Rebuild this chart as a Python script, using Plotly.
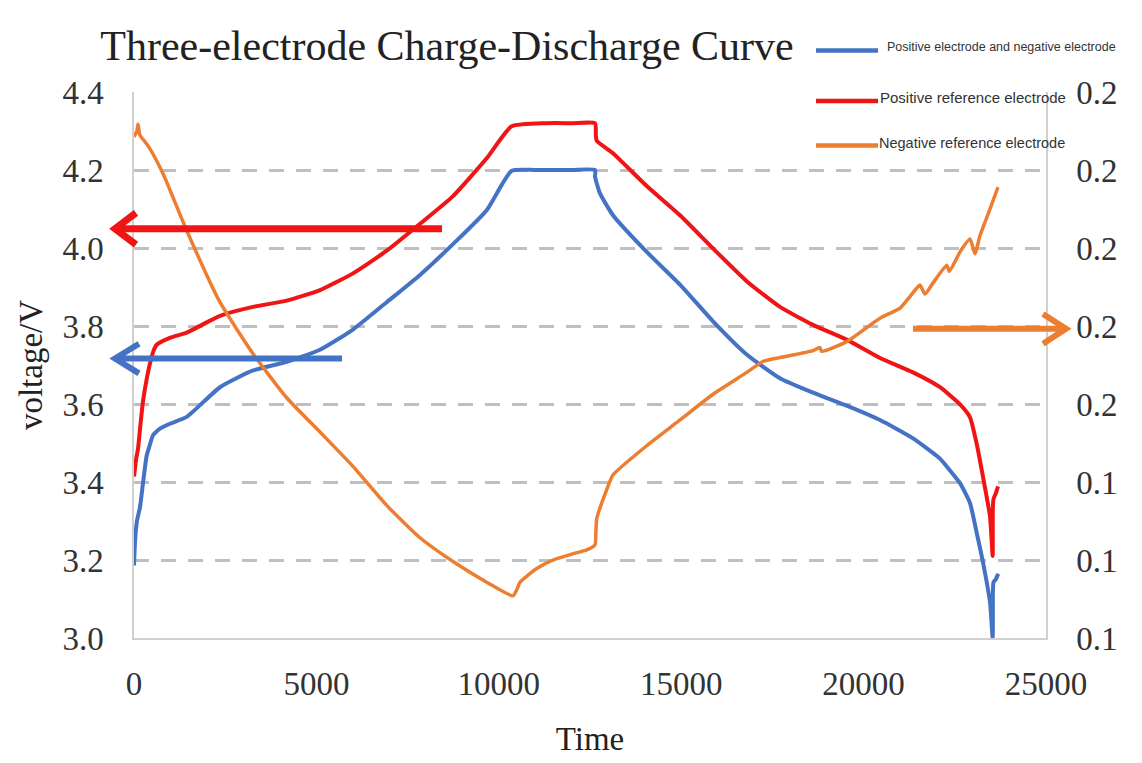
import plotly.graph_objects as go

# ---------------- data ----------------
# Positive electrode and negative electrode (left axis, V)
blue_t = [0, 30, 80, 164, 250, 348, 450, 521, 712, 1000, 1444, 2357, 3262, 4185, 5099, 6003,
          6927, 7840, 8745, 9668, 10353, 11000, 12000, 12637, 12640, 12774, 13130, 14054, 14967,
          15872, 16795, 17708, 18613, 19536, 20450, 21355, 22094, 22278, 22643, 22917, 23100,
          23273, 23465, 23538, 23545, 23560, 23620, 23690]
blue_v = [3.186, 3.25, 3.30, 3.335, 3.40, 3.468, 3.50, 3.52, 3.537, 3.55, 3.567, 3.643, 3.686,
          3.708, 3.739, 3.791, 3.861, 3.931, 4.01, 4.097, 4.198, 4.20, 4.20, 4.20, 4.182, 4.14,
          4.084, 3.99, 3.906, 3.812, 3.727, 3.666, 3.629, 3.596, 3.559, 3.512, 3.46, 3.44,
          3.397, 3.346, 3.27, 3.194, 3.092, 3.0, 3.118, 3.143, 3.15, 3.165]

# Positive reference electrode (left axis, V)
red_t = [0, 60, 110, 180, 247, 340, 438, 530, 622, 1000, 1444, 2357, 3262, 4185, 5099, 6003,
         6927, 7840, 8745, 9668, 10353, 11313, 12000, 12637, 12660, 12683, 13130, 14054, 14967,
         15872, 16795, 17708, 18613, 19536, 20450, 21355, 22094, 22643, 22917, 23100, 23273,
         23465, 23538, 23542, 23560, 23620, 23684]
red_v = [3.414, 3.46, 3.485, 3.55, 3.607, 3.66, 3.704, 3.735, 3.752, 3.77, 3.783, 3.826, 3.849,
         3.865, 3.892, 3.935, 3.993, 4.062, 4.133, 4.23, 4.312, 4.32, 4.32, 4.32, 4.29, 4.275,
         4.243, 4.159, 4.084, 3.999, 3.915, 3.849, 3.803, 3.765, 3.718, 3.681, 3.643, 3.599,
         3.566, 3.498, 3.413, 3.312, 3.21, 3.33, 3.356, 3.37, 3.389]

# Negative reference electrode (right axis)
orange_t = [0, 80, 110, 160, 400, 800, 1444, 2357, 3262, 4185, 5099, 6003, 6927, 7840,
            8745, 9668, 10390, 10500, 10581, 11039, 11486, 12000, 12409, 12637, 12660, 12683,
            12956, 13130, 14054, 14967, 15872, 16795, 17242, 17708, 18613, 18800, 18850, 19536,
            20450, 20998, 21454, 21546, 21683, 21902, 22278, 22350, 22643, 22917, 23053, 23191,
            23465, 23684]
orange_v = [0.2285, 0.2300, 0.2317, 0.2290, 0.2260, 0.2190, 0.2045, 0.1861, 0.1729, 0.1616,
            0.1528, 0.1440, 0.1340, 0.1257, 0.1196, 0.1143, 0.1108, 0.1125, 0.1143,
            0.1178, 0.1200, 0.1215, 0.1226, 0.1239, 0.1268, 0.1305, 0.1380, 0.1418, 0.1493,
            0.1559, 0.1625, 0.1681, 0.1709, 0.1719, 0.1737, 0.1745, 0.1735, 0.1760, 0.1820,
            0.1846, 0.1897, 0.1905, 0.1882, 0.1910, 0.1956, 0.1940, 0.1990, 0.2023, 0.1985,
            0.2032, 0.2100, 0.2156]

names = ["Positive electrode and negative electrode", "Positive reference electrode",
         "Negative reference electrode"]
colors = ["#4472C4", "#F01414", "#ED7D31"]

title_text = "Three-electrode Charge-Discharge Curve"
x_title = "Time"
y_title = "voltage/V"

# ---------------- figure ----------------
W, H = 1142, 763
ML, MR, MT, MB = 134, 96, 92, 120
PW, PH = W - ML - MR, H - MT - MB


def px(xp):
    return (xp - ML) / PW


def py(yp):
    return (H - MB - yp) / PH


line_kw = dict(shape="spline", smoothing=0.5)
fig = go.Figure()
fig.add_trace(go.Scatter(x=blue_t, y=blue_v, name=names[0], mode="lines",
                         line=dict(color=colors[0], width=4, **line_kw), yaxis="y"))
fig.add_trace(go.Scatter(x=red_t, y=red_v, name=names[1], mode="lines",
                         line=dict(color=colors[1], width=4, **line_kw), yaxis="y"))
fig.add_trace(go.Scatter(x=orange_t, y=orange_v, name=names[2], mode="lines",
                         line=dict(color=colors[2], width=3.5, **line_kw), yaxis="y2"))

serif = "Liberation Serif"
sans = "Liberation Sans"
tick_font = dict(family=serif, size=33, color="#333333")

fig.update_layout(
    width=W, height=H,
    margin=dict(l=ML, r=MR, t=MT, b=MB),
    paper_bgcolor="white", plot_bgcolor="white",
    showlegend=False,
    title=dict(text=title_text, x=447 / W, xanchor="center", xref="container",
               y=1 - 45 / H, yanchor="middle", yref="container",
               font=dict(family=serif, size=42, color="#222222")),
    xaxis=dict(range=[0, 25000], dtick=5000, tickformat="d", showgrid=False, zeroline=False,
               showline=True, linecolor="#D0D0D0", linewidth=1.5,
               tickfont=tick_font, ticklabelstandoff=16,
               title=dict(text=x_title, font=dict(family=serif, size=33, color="#222222"),
                          standoff=26)),
    yaxis=dict(range=[3.0, 4.4], dtick=0.2, tickformat=".1f", zeroline=False,
               showgrid=True, gridcolor="#BFBFBF", gridwidth=3, griddash="15px,12px",
               showline=True, linecolor="#D0D0D0", linewidth=1.5,
               tickfont=tick_font, ticklabelstandoff=22,
               title=dict(text=y_title, font=dict(family=serif, size=33, color="#222222"),
                          standoff=10)),
    yaxis2=dict(range=[0.10, 0.24], dtick=0.02, tickformat=".1f", overlaying="y",
                side="right", showgrid=False, zeroline=False,
                showline=True, linecolor="#D0D0D0", linewidth=1.5,
                tickfont=tick_font, ticklabelstandoff=22),
)

# ---------------- arrows pointing at the axes ----------------
shapes = []


def arrow(x_tail, x_tip, y, x_arm, dy, color, width):
    shapes.append(dict(type="line", xref="paper", yref="paper",
                       x0=px(x_tail), x1=px(x_tip), y0=py(y), y1=py(y),
                       line=dict(color=color, width=width), layer="above"))
    shapes.append(dict(type="path", xref="paper", yref="paper",
                       path=f"M {px(x_arm)},{py(y - dy)} L {px(x_tip)},{py(y)} L {px(x_arm)},{py(y + dy)}",
                       line=dict(color=color, width=width), layer="above"))


arrow(442, 115, 230, 136, 16, colors[1], 7)
arrow(342, 115, 361, 139, 15, colors[0], 6)
arrow(913, 1066, 331, 1043, 15, colors[2], 6)

# ---------------- hand-placed legend ----------------
legend_rows = [(50, 885, 12.5), (101, 878, 15), (146, 877, 14.5)]
annotations = []
for (yy, xtext, fs), nm, col in zip(legend_rows, names, colors):
    shapes.append(dict(type="line", xref="paper", yref="paper",
                       x0=px(816), x1=px(878), y0=py(yy), y1=py(yy),
                       line=dict(color=col, width=4.5), layer="above"))
    annotations.append(dict(text=nm, xref="paper", yref="paper", x=px(xtext), y=py(yy - 3),
                            xanchor="left", yanchor="middle", showarrow=False,
                            font=dict(family=sans, size=fs, color="#333333")))

fig.update_layout(shapes=shapes, annotations=annotations)

fig.write_html("out.html")
